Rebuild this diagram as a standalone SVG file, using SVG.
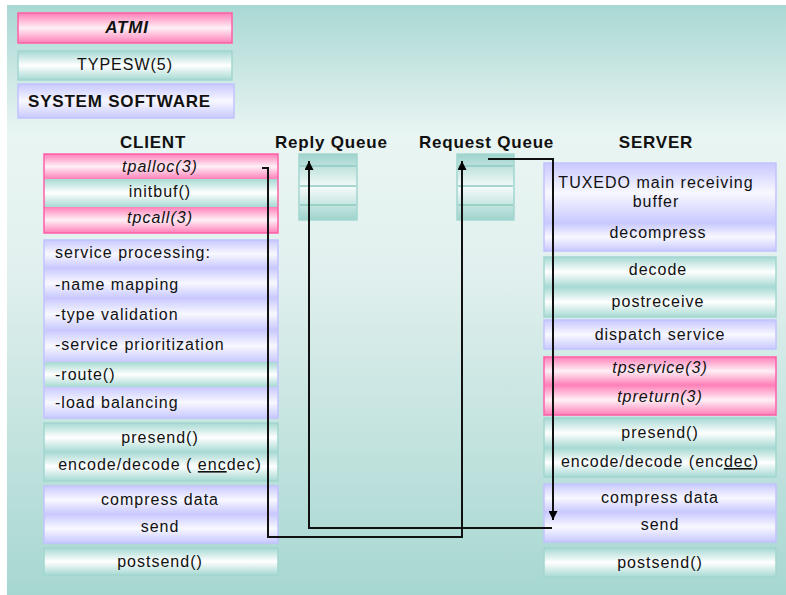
<svg xmlns="http://www.w3.org/2000/svg" width="786" height="595" viewBox="0 0 786 595">
<defs>
<linearGradient id="bg" x1="0" y1="0" x2="0" y2="1">
<stop offset="0" stop-color="#a9d8d3"/>
<stop offset="0.22" stop-color="#e9f5f3"/>
<stop offset="0.45" stop-color="#e1f0ee"/>
<stop offset="1" stop-color="#a7d7d1"/>
</linearGradient>
<linearGradient id="gPink" x1="0" y1="0" x2="0" y2="1">
<stop offset="0" stop-color="#ff80b8"/>
<stop offset="0.5" stop-color="#fff0f6"/>
<stop offset="1" stop-color="#ff80b8"/>
</linearGradient>
<linearGradient id="gTeal" x1="0" y1="0" x2="0" y2="1">
<stop offset="0" stop-color="#a6d9d2"/>
<stop offset="0.5" stop-color="#ffffff"/>
<stop offset="1" stop-color="#a6d9d2"/>
</linearGradient>
<linearGradient id="gLav" x1="0" y1="0" x2="0" y2="1">
<stop offset="0" stop-color="#c8c8ff"/>
<stop offset="0.5" stop-color="#f8f8ff"/>
<stop offset="1" stop-color="#c8c8ff"/>
</linearGradient>
<linearGradient id="gQueue" x1="0" y1="0" x2="0" y2="1">
<stop offset="0" stop-color="#9fd3cc"/>
<stop offset="0.5" stop-color="#f4fbfa"/>
<stop offset="1" stop-color="#9fd3cc"/>
</linearGradient>
<marker id="arr" viewBox="0 0 10 10" refX="10" refY="5" markerWidth="10" markerHeight="9" markerUnits="userSpaceOnUse" orient="auto">
<path d="M0,0 L10,5 L0,10 z" fill="#000"/>
</marker>
<style>
.pk{fill:url(#gPink)}
.tl{fill:url(#gTeal)}
.lv{fill:url(#gLav)}
.bp{fill:none;stroke:#ff5fa8;stroke-width:1.5}
.bt{fill:none;stroke:#a2d6cf;stroke-width:1.5}
.bl{fill:none;stroke:#c2c2ff;stroke-width:1.5}
.t{font-family:"Liberation Sans",Arial,sans-serif;font-size:16px;letter-spacing:1px;fill:#111}
.c{text-anchor:middle}
.i{font-style:italic}
.h{font-family:"Liberation Sans",Arial,sans-serif;font-size:17px;font-weight:bold;letter-spacing:0.8px;fill:#111}
.u{text-decoration:underline}
.q{fill:url(#gQueue);stroke:#a2d6cf;stroke-width:1.5}
.ql{stroke:#8cc8c0;stroke-width:1.5}
.cn{fill:none;stroke:#111;stroke-width:2}
</style>
</defs>
<rect x="0" y="0" width="786" height="595" fill="#ffffff"/>
<rect x="7" y="5" width="779" height="590" fill="url(#bg)"/>

<g id="legend-atmi">
<rect x="18" y="13" width="214" height="30" class="pk"/>
<rect x="18" y="13" width="214" height="30" class="bp"/>
<text x="127" y="33" class="h c i">ATMI</text>
</g>
<g id="legend-typesw">
<rect x="18" y="51" width="214" height="29" class="tl"/>
<rect x="18" y="51" width="214" height="29" class="bt"/>
<text x="125" y="70" class="t c">TYPESW(5)</text>
</g>
<g id="legend-system">
<rect x="18" y="84" width="216" height="34" class="lv"/>
<rect x="18" y="84" width="216" height="34" class="bl"/>
<text x="28" y="107" class="h">SYSTEM SOFTWARE</text>
</g>

<g id="headers">
<text x="153" y="148" class="h c">CLIENT</text>
<text x="275" y="148" class="h">Reply Queue</text>
<text x="419" y="148" class="h">Request Queue</text>
<text x="656" y="148" class="h c">SERVER</text>
</g>

<g id="reply-queue">
<rect x="299" y="154" width="58" height="66" class="q"/>
<line x1="300" y1="166" x2="356" y2="166" class="ql"/>
<line x1="300" y1="186" x2="356" y2="186" class="ql"/>
<line x1="300" y1="205" x2="356" y2="205" class="ql"/>
</g>
<g id="request-queue">
<rect x="457" y="154" width="57" height="66" class="q"/>
<line x1="458" y1="166" x2="513" y2="166" class="ql"/>
<line x1="458" y1="186" x2="513" y2="186" class="ql"/>
<line x1="458" y1="205" x2="513" y2="205" class="ql"/>
</g>

<g id="client-atmi">
<rect x="44" y="154" width="234" height="25" class="pk"/>
<rect x="44" y="179" width="234" height="28" class="tl"/>
<rect x="44" y="207" width="234" height="26" class="pk"/>
<rect x="44" y="154" width="234" height="79" class="bp"/>
<text x="160" y="172" class="t c i">tpalloc(3)</text>
<text x="160" y="197" class="t c">initbuf()</text>
<text x="160" y="223" class="t c i">tpcall(3)</text>
</g>
<g id="client-service">
<rect x="44" y="240" width="234" height="28" class="lv"/>
<rect x="44" y="268" width="234" height="30" class="lv"/>
<rect x="44" y="298" width="234" height="32" class="lv"/>
<rect x="44" y="330" width="234" height="32" class="lv"/>
<rect x="44" y="362" width="234" height="25" class="tl"/>
<rect x="44" y="387" width="234" height="31" class="lv"/>
<rect x="44" y="240" width="234" height="178" class="bl"/>
<text x="55" y="258" class="t">service processing:</text>
<text x="55" y="290" class="t">-name mapping</text>
<text x="55" y="320" class="t">-type validation</text>
<text x="55" y="350" class="t">-service prioritization</text>
<text x="55" y="380" class="t">-route()</text>
<text x="55" y="408" class="t">-load balancing</text>
</g>
<g id="client-presend">
<rect x="44" y="423" width="234" height="29" class="tl"/>
<rect x="44" y="452" width="234" height="29" class="tl"/>
<rect x="44" y="423" width="234" height="58" class="bt"/>
<text x="160" y="443" class="t c">presend()</text>
<text x="160" y="470" class="t c">encode/decode ( <tspan class="u">enc</tspan>dec)</text>
</g>
<g id="client-compress">
<rect x="44" y="486" width="234" height="28" class="lv"/>
<rect x="44" y="514" width="234" height="29" class="lv"/>
<rect x="44" y="486" width="234" height="57" class="bl"/>
<text x="160" y="505" class="t c">compress data</text>
<text x="160" y="532" class="t c">send</text>
</g>
<g id="client-postsend">
<rect x="44" y="548" width="234" height="27" class="tl"/>
<rect x="44" y="548" width="234" height="27" class="bt"/>
<text x="160" y="567" class="t c">postsend()</text>
</g>

<g id="server-receive">
<rect x="544" y="163" width="232" height="60" class="lv"/>
<rect x="544" y="223" width="232" height="28" class="lv"/>
<rect x="544" y="163" width="232" height="88" class="bl"/>
<text x="656" y="188" class="t c">TUXEDO main receiving</text>
<text x="656" y="207" class="t c">buffer</text>
<text x="658" y="238" class="t c">decompress</text>
</g>
<g id="server-decode">
<rect x="544" y="257" width="232" height="30" class="tl"/>
<rect x="544" y="287" width="232" height="30" class="tl"/>
<rect x="544" y="257" width="232" height="60" class="bt"/>
<text x="658" y="275" class="t c">decode</text>
<text x="658" y="307" class="t c">postreceive</text>
</g>
<g id="server-dispatch">
<rect x="544" y="320" width="232" height="29" class="lv"/>
<rect x="544" y="320" width="232" height="29" class="bl"/>
<text x="660" y="340" class="t c">dispatch service</text>
</g>
<g id="server-atmi">
<rect x="544" y="357" width="232" height="28" class="pk"/>
<rect x="544" y="385" width="232" height="30" class="pk"/>
<rect x="544" y="357" width="232" height="58" class="bp"/>
<text x="660" y="373" class="t c i">tpservice(3)</text>
<text x="660" y="402" class="t c i">tpreturn(3)</text>
</g>
<g id="server-presend">
<rect x="544" y="418" width="232" height="30" class="tl"/>
<rect x="544" y="448" width="232" height="29" class="tl"/>
<rect x="544" y="418" width="232" height="59" class="bt"/>
<text x="660" y="438" class="t c">presend()</text>
<text x="660" y="467" class="t c">encode/decode (enc<tspan class="u">dec</tspan>)</text>
</g>
<g id="server-compress">
<rect x="544" y="484" width="232" height="28" class="lv"/>
<rect x="544" y="512" width="232" height="30" class="lv"/>
<rect x="544" y="484" width="232" height="58" class="bl"/>
<text x="660" y="503" class="t c">compress data</text>
<text x="660" y="530" class="t c">send</text>
</g>
<g id="server-postsend">
<rect x="544" y="548" width="232" height="29" class="tl"/>
<rect x="544" y="548" width="232" height="29" class="bt"/>
<text x="660" y="568" class="t c">postsend()</text>
</g>

<g id="connectors">
<path d="M262,168 H268 V537 H462 V161" class="cn" marker-end="url(#arr)"/>
<path d="M552,528 H309 V161" class="cn" marker-end="url(#arr)"/>
<path d="M488,159 H553 V520" class="cn" marker-end="url(#arr)"/>
</g>
</svg>
